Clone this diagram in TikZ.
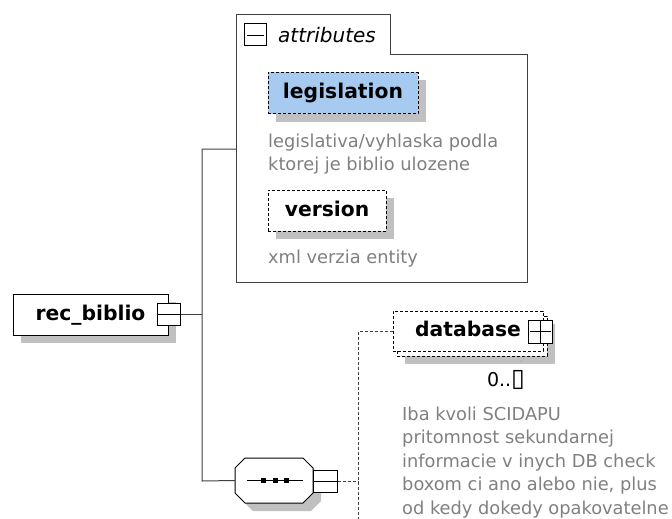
\documentclass[tikz,border=0pt]{standalone}
\usepackage{fontspec}
\setmainfont{DejaVu Sans}
\definecolor{ShadowGray}{RGB}{192, 192, 192}
\definecolor{NoteGray}{RGB}{128, 128, 128}
\definecolor{AttrBlue}{RGB}{166, 202, 240}
\definecolor{LineGray}{RGB}{64, 64, 64}
\usetikzlibrary{positioning, shadows}

\begin{document}
\begin{tikzpicture}[x=1pt, y=-1pt,
        namebox/.style={rectangle, draw=black, line width=1pt, fill=white, minimum height=41pt, text height=15pt, text depth=4pt, inner sep=0pt, font=\bfseries\fontsize{20.3}{24}\selectfont},
        elem/.style={namebox, drop shadow={shadow xshift=8pt, shadow yshift=-8pt, fill=ShadowGray, opacity=1}},
        optelem/.style={elem, dash pattern=on 3pt off 2pt},
        toggle/.style={rectangle, draw=black, line width=1pt, fill=white, minimum width=23pt, minimum height=22pt, inner sep=0pt},
        note/.style={anchor=north west, align=left, inner sep=0pt, text=NoteGray, font=\fontsize{17.8}{23.5}\selectfont},
        link/.style={draw=LineGray, line width=1pt},
        optlink/.style={link, dash pattern=on 3pt off 2pt}
    ]
        \useasboundingbox (0,0) rectangle (672,519);

        % Attribute group
        \draw[link, fill=white] (236,282) -- (236,15) -- (390,15) -- (390,55) -- (527,55) -- (527,282) -- cycle;
        \node[toggle, minimum width=22pt] (attrminus) at (255.5,35) {};
        \draw ([xshift=3pt]attrminus.west) -- ([xshift=-3pt]attrminus.east);
        \node[anchor=west, inner sep=0pt, font=\itshape\fontsize{20}{24}\selectfont] (attrlabel) at (278,35) {attributes};

        \node[optelem, fill=AttrBlue, minimum width=150pt] (legislation) at (343,93) {legislation};
        \node[note] (legislationnote) at (268,133.5) {legislativa/vyhlaska podla\\ktorej je biblio ulozene};

        \node[optelem, minimum width=118pt] (version) at (327,210.5) {version};
        \node[note] (versionnote) at (268,249.5) {xml verzia entity};

        % Root element
        \node[elem, minimum width=155pt] (rec) at (90.5,314.5) {rec\_biblio};
        \node[toggle] (recminus) at (168.5,314.5) {};
        \draw (recminus.west) -- (recminus.east);

        % Sequence
        \node[minimum width=78pt, minimum height=45pt, inner sep=0pt] (seq) at (274,480.5) {};
        \fill[ShadowGray, shift={(seq.center)}, xshift=8pt, yshift=-8pt] (-39,-12.5) -- (-29,-22.5) -- (29,-22.5) -- (39,-12.5) -- (39,12.5) -- (29,22.5) -- (-29,22.5) -- (-39,12.5) -- cycle;
        \draw[line width=1pt, fill=white, shift={(seq.center)}] (-39,-12.5) -- (-29,-22.5) -- (29,-22.5) -- (39,-12.5) -- (39,12.5) -- (29,22.5) -- (-29,22.5) -- (-39,12.5) -- cycle;
        \draw (seq.center) +(-27,0) -- +(29,0);
        \foreach \dx in {-11,1,12}
            \fill ([xshift=\dx pt]seq.center) +(-2.5,-2.5) rectangle +(2.5,2.5);
        \node[toggle, minimum width=24pt] (seqminus) at (325,481) {};
        \draw (seqminus.west) -- (seqminus.east);

        % Connectors
        \coordinate (jtop) at (202,149);
        \coordinate (jbot) at (202,481);
        \coordinate (attrin) at (236,149);
        \draw[link] (attrin) -- (jtop) -- (jbot) -- (seq.west);
        \draw[link] (recminus.east) -- (recminus.east -| jtop);

        \coordinate (dtop) at (358,331);
        \coordinate (dbot) at (358,519);

        % Optional database
        \node[optelem, minimum width=150pt, minimum height=40pt] (dbback) at (472,336) {};
        \node[namebox, dash pattern=on 3pt off 2pt, minimum width=150pt, minimum height=40pt] (db) at (468,331) {database};
        \node[toggle, minimum width=24pt, minimum height=23pt] (dbplus) at (540,331.5) {};
        \draw ([xshift=2pt]dbplus.west) -- ([xshift=-2pt]dbplus.east);
        \draw (dbplus.north) -- (dbplus.south);
        \draw[NoteGray, dotted] (513,352) -- (520.5,362) -- (528,352);
        \node[inner sep=0pt, font=\fontsize{19}{22}\selectfont] (dbcount) at (506,380) {0..{\fontsize{25}{25}\selectfont ▯}};
        \node[note] (dbnote) at (402,406.5) {Iba kvoli SCIDAPU\\pritomnost sekundarnej\\informacie v inych DB check\\boxom ci ano alebo nie, plus\\od kedy dokedy opakovatelne};

        \draw[optlink] (seqminus.east) -- (seqminus.east -| dtop);
        \draw[optlink] (db.west) -- (dtop) -- (dbot);
    \end{tikzpicture}
\end{document}
